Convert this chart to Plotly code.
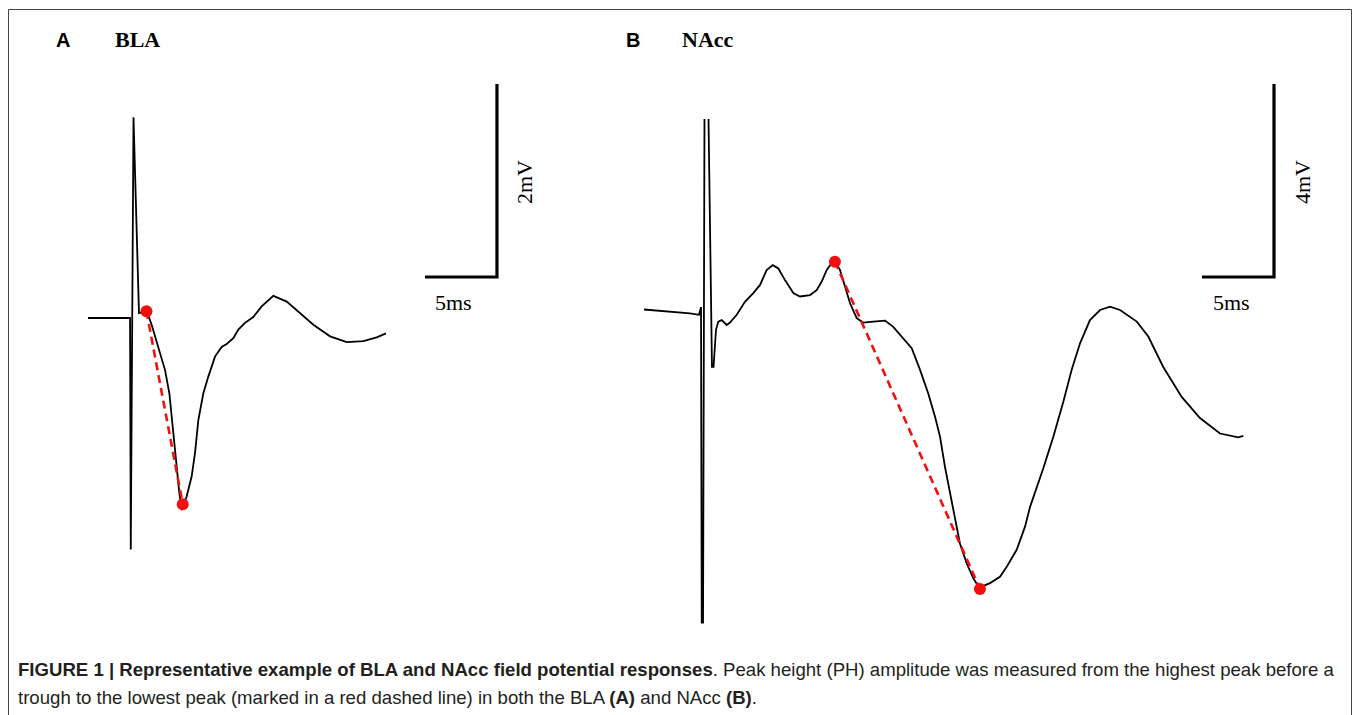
import plotly.graph_objects as go

# ---------------- data (time in ms, voltage in mV) ----------------
# Panel A: BLA field potential
bla_t = [0, 2.92, 2.97, 3.16, 3.54, 3.75, 4.08, 4.42, 4.88, 5.35, 5.65, 5.88, 6.11, 6.34, 6.51,
         6.85, 7.20, 7.43, 7.66, 8.01, 8.35, 8.82, 9.28, 9.63, 10.09, 10.44, 10.90, 11.48, 12.06,
         12.87, 13.80, 14.72, 15.65, 16.81, 17.97, 19.12, 20.05, 20.69]
bla_v = [0, 0, -2.40, 2.08, 0.05, 0.06, 0.07, -0.07, -0.30, -0.54, -0.78, -1.13, -1.47, -1.81, -1.99,
         -1.85, -1.64, -1.40, -1.06, -0.78, -0.61, -0.40, -0.30, -0.27, -0.21, -0.12, -0.05, 0.01, 0.12,
         0.23, 0.17, 0.05, -0.07, -0.19, -0.25, -0.24, -0.20, -0.16]
bla_peak_t = [4.06, 6.58]
bla_peak_v = [0.07, -1.93]

# Panel B: NAcc field potential
nacc_t = [0, 0.42, 0.76, 1.11, 1.81, 2.50, 3.19, 3.82, 3.96, 4.01, 4.10, 4.20, None,
          4.48, 4.72, 4.83, 5.00, 5.16, 5.40, 5.74, 5.97, 6.44, 7.01, 7.59, 8.06, 8.52, 8.94,
          9.33, 9.79, 10.37, 10.83, 11.53, 11.99, 12.34, 12.69, 13.03, 13.26, 13.61, 13.96,
          14.31, 14.77, 15.23, 15.92, 16.74, 17.31, 18.01, 18.59, 19.17, 19.74, 20.21, 20.56,
          20.90, 21.25, 21.60, 21.94, 22.41, 22.87, 23.22, 23.40, 24.03, 24.72, 25.19, 25.88,
          26.46, 26.81, 27.73, 28.42, 29.12, 29.70, 30.28, 30.97, 31.67, 32.36, 33.06, 34.22,
          35.02, 36.06, 37.34, 38.61, 40.00, 40.92, 41.27, 41.62]
nacc_v = [0.01, 0, -0.01, -0.02, -0.04, -0.06, -0.07, -0.10, 0.06, -6.48, -6.48, 3.96, None,
          3.96, -1.18, -1.18, -0.41, -0.24, -0.21, -0.31, -0.26, -0.10, 0.17, 0.35, 0.52, 0.83, 0.93,
          0.86, 0.62, 0.35, 0.28, 0.31, 0.41, 0.59, 0.83, 0.97, 1.00, 0.83, 0.48,
          0.14, -0.17, -0.26, -0.24, -0.22, -0.35, -0.59, -0.79, -1.24, -1.73, -2.21, -2.63,
          -3.25, -3.80, -4.35, -4.84, -5.25, -5.56, -5.73, -5.74, -5.66, -5.53, -5.32, -4.97,
          -4.49, -4.08, -3.28, -2.63, -1.90, -1.24, -0.69, -0.21, 0.00, 0.07, 0.00, -0.24,
          -0.55, -1.18, -1.80, -2.24, -2.56, -2.61, -2.64, -2.61]
nacc_peak_t = [13.26, 23.33]
nacc_peak_v = [1.00, -5.78]

# Scale bars: corner position (ms, mV) and lengths
bla_bar_corner = (28.40, 0.425)
bla_bar_len = (5, 2)      # 5 ms, 2 mV
nacc_bar_corner = (43.75, 0.684)
nacc_bar_len = (5, 4)     # 5 ms, 4 mV

# ---------------- layout geometry ----------------
W, H = 1355, 715
PX_PER_MS = 14.4
A_ORIGIN = (88, 318); A_PX_PER_MV = 96.5
B_ORIGIN = (644, 310); B_PX_PER_MV = 48.25
SPLIT = 0.44

def xrange_for(origin_px, d0, d1):
    p0, p1 = d0 * W, d1 * W
    return [(p0 - origin_px) / PX_PER_MS, (p1 - origin_px) / PX_PER_MS]

def yrange_for(origin_py, pxmv):
    return [(origin_py - H) / pxmv, origin_py / pxmv]

fig = go.Figure()

black_line = dict(color="black", width=1.8)
red = "#f01010"

# Panel A
fig.add_trace(go.Scatter(x=bla_t, y=bla_v, mode="lines", line=black_line,
                         xaxis="x", yaxis="y", hoverinfo="skip"))
fig.add_trace(go.Scatter(x=bla_peak_t, y=bla_peak_v, mode="lines+markers",
                         line=dict(color=red, width=2.6, dash="8px,5px"),
                         marker=dict(color=red, size=12), xaxis="x", yaxis="y"))
cx, cy = bla_bar_corner
fig.add_trace(go.Scatter(x=[cx - bla_bar_len[0], cx, cx], y=[cy, cy, cy + bla_bar_len[1]],
                         mode="lines", line=dict(color="black", width=3.2),
                         xaxis="x", yaxis="y", hoverinfo="skip"))

# Panel B
fig.add_trace(go.Scatter(x=nacc_t, y=nacc_v, mode="lines", line=black_line,
                         xaxis="x2", yaxis="y2", hoverinfo="skip"))
fig.add_trace(go.Scatter(x=nacc_peak_t, y=nacc_peak_v, mode="lines+markers",
                         line=dict(color=red, width=2.6, dash="8px,5px"),
                         marker=dict(color=red, size=12), xaxis="x2", yaxis="y2"))
cx2, cy2 = nacc_bar_corner
fig.add_trace(go.Scatter(x=[cx2 - nacc_bar_len[0], cx2, cx2], y=[cy2, cy2, cy2 + nacc_bar_len[1]],
                         mode="lines", line=dict(color="black", width=3.2),
                         xaxis="x2", yaxis="y2", hoverinfo="skip"))

hidden = dict(visible=False, showgrid=False, zeroline=False, fixedrange=True)
fig.update_layout(
    width=W, height=H, margin=dict(l=0, r=0, t=0, b=0, pad=0),
    paper_bgcolor="white", plot_bgcolor="white", showlegend=False,
    xaxis=dict(domain=[0, SPLIT], range=xrange_for(A_ORIGIN[0], 0, SPLIT), anchor="y", **hidden),
    yaxis=dict(domain=[0, 1], range=yrange_for(A_ORIGIN[1], A_PX_PER_MV), anchor="x", **hidden),
    xaxis2=dict(domain=[SPLIT, 1], range=xrange_for(B_ORIGIN[0], SPLIT, 1), anchor="y2", **hidden),
    yaxis2=dict(domain=[0, 1], range=yrange_for(B_ORIGIN[1], B_PX_PER_MV), anchor="x2", **hidden),
)

def px(x): return x / W
def py(y): return 1 - y / H

serif = "Liberation Serif, Times New Roman, serif"
sans = "Liberation Sans, Arial, sans-serif"
ann = []
def text(x, y, s, font, size, bold=False, angle=0, xanchor="center", color="black"):
    ann.append(dict(x=px(x), y=py(y), xref="paper", yref="paper", text=s, showarrow=False,
                    xanchor=xanchor, yanchor="middle", textangle=angle,
                    font=dict(family=font, size=size, color=color)))

text(63, 40, "<b>A</b>", sans, 20)
text(137.5, 40, "<b>BLA</b>", serif, 22)
text(633, 40, "<b>B</b>", sans, 20)
text(708, 40, "<b>NAcc</b>", serif, 22)
text(453, 303, "5ms", serif, 22)
text(1231, 303, "5ms", serif, 22)
text(525, 182, "2mV", serif, 22, angle=-90)
text(1303, 182, "4mV", serif, 22, angle=-90)

cap_font = "Liberation Sans, Arial, sans-serif"
cap_color = "#231f20"
text(16, 669, "<b>FIGURE 1 | Representative example of BLA and NAcc field potential responses</b>. "
     "Peak height (PH) amplitude was measured from the highest peak before a",
     cap_font, 18.6, xanchor="left", color=cap_color)
text(16, 697, "trough to the lowest peak (marked in a red dashed line) in both the BLA <b>(A)</b> and NAcc <b>(B)</b>.",
     cap_font, 18.6, xanchor="left", color=cap_color)

fig.update_layout(annotations=ann)

# outer frame
fig.add_shape(type="rect", xref="paper", yref="paper", x0=px(8.5), x1=px(1351.5),
              y0=-0.05, y1=py(9.5), line=dict(color="#444", width=1), fillcolor="rgba(0,0,0,0)")

fig.write_html("out.html")
